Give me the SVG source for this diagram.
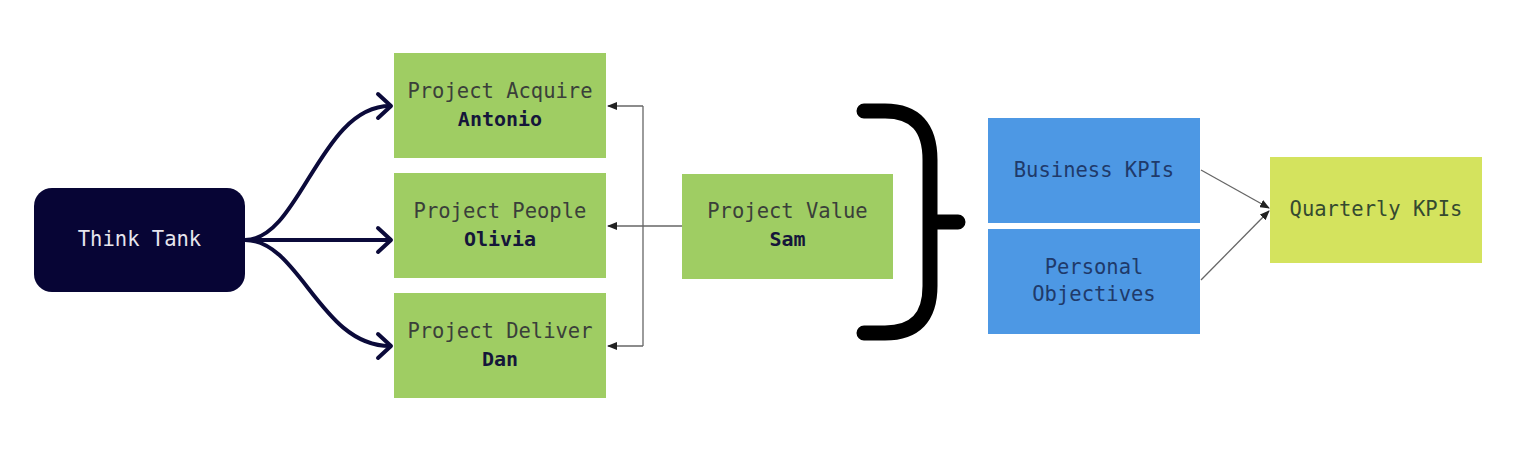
<svg xmlns="http://www.w3.org/2000/svg" width="1516" height="452" viewBox="0 0 1516 452">
<style>
.g{fill:#9fcd63}
.b{fill:#4d98e4}
.t{font-family:"DejaVu Sans Mono","Liberation Mono",monospace;font-size:20.5px;text-anchor:middle;fill:#3a3f3a}
.n{font-family:"DejaVu Sans Mono","Liberation Mono",monospace;font-size:20px;font-weight:bold;text-anchor:middle;fill:#15163a}
.bt{fill:#1f3a6a}
.thick{fill:none;stroke:#0b0a3a;stroke-width:4;stroke-linecap:round;stroke-linejoin:round}
.thin{fill:none;stroke:#666;stroke-width:1.3}
</style>
<defs>
<marker id="ah" markerWidth="10" markerHeight="8" refX="9" refY="4" orient="auto" markerUnits="userSpaceOnUse">
<path d="M0,0 L10,4 L0,8 Z" fill="#222"/>
</marker>
</defs>
<rect width="1516" height="452" fill="#fff"/>
<g id="connectors">
<path class="thick" d="M245,240 C300,240 320,106 390,106"/>
<path class="thick" d="M245,240 L390,240"/>
<path class="thick" d="M245,240 C300,240 320,346 390,346"/>
<path class="thick" d="M378,94 L391,106 L378,118"/>
<path class="thick" d="M378,228 L391,240 L378,252"/>
<path class="thick" d="M378,334 L391,346 L378,358"/>
<path class="thin" d="M643,106 L643,346"/>
<path class="thin" d="M643,106 L608,106" marker-end="url(#ah)"/>
<path class="thin" d="M682,226 L608,226" marker-end="url(#ah)"/>
<path class="thin" d="M643,346 L608,346" marker-end="url(#ah)"/>
<path class="thin" d="M1201,170 L1269,208" marker-end="url(#ah)"/>
<path class="thin" d="M1201,280 L1269,211" marker-end="url(#ah)"/>
<path d="M864,111 L885,111 Q930,111 930,160 L930,286 Q930,333 885,333 L864,333 M930,222 L958,222" fill="none" stroke="#000" stroke-width="15" stroke-linecap="round" stroke-linejoin="round"/>
</g>
<g id="think-tank">
<rect x="34" y="188" width="211" height="104" rx="18" fill="#070535"/>
<text class="t" x="139.5" y="246" style="fill:#e6e6ee">Think Tank</text>
</g>
<g id="project-acquire">
<rect class="g" x="394" y="53" width="212" height="105"/>
<text class="t" x="500" y="98">Project Acquire</text>
<text class="n" x="500" y="126">Antonio</text>
</g>
<g id="project-people">
<rect class="g" x="394" y="173" width="212" height="105"/>
<text class="t" x="500" y="218">Project People</text>
<text class="n" x="500" y="246">Olivia</text>
</g>
<g id="project-deliver">
<rect class="g" x="394" y="293" width="212" height="105"/>
<text class="t" x="500" y="338">Project Deliver</text>
<text class="n" x="500" y="366">Dan</text>
</g>
<g id="project-value">
<rect class="g" x="682" y="174" width="211" height="105"/>
<text class="t" x="787.5" y="218">Project Value</text>
<text class="n" x="787.5" y="246">Sam</text>
</g>
<g id="business-kpis">
<rect class="b" x="988" y="118" width="212" height="105"/>
<text class="t" x="1094" y="177" style="fill:#1f3a6a">Business KPIs</text>
</g>
<g id="personal-objectives">
<rect class="b" x="988" y="229" width="212" height="105"/>
<text class="t" x="1094" y="274" style="fill:#1f3a6a">Personal</text>
<text class="t" x="1094" y="301" style="fill:#1f3a6a">Objectives</text>
</g>
<g id="quarterly-kpis">
<rect x="1270" y="157" width="212" height="106" fill="#d4e35e"/>
<text class="t" x="1376" y="216" style="fill:#354a30">Quarterly KPIs</text>
</g>
</svg>
